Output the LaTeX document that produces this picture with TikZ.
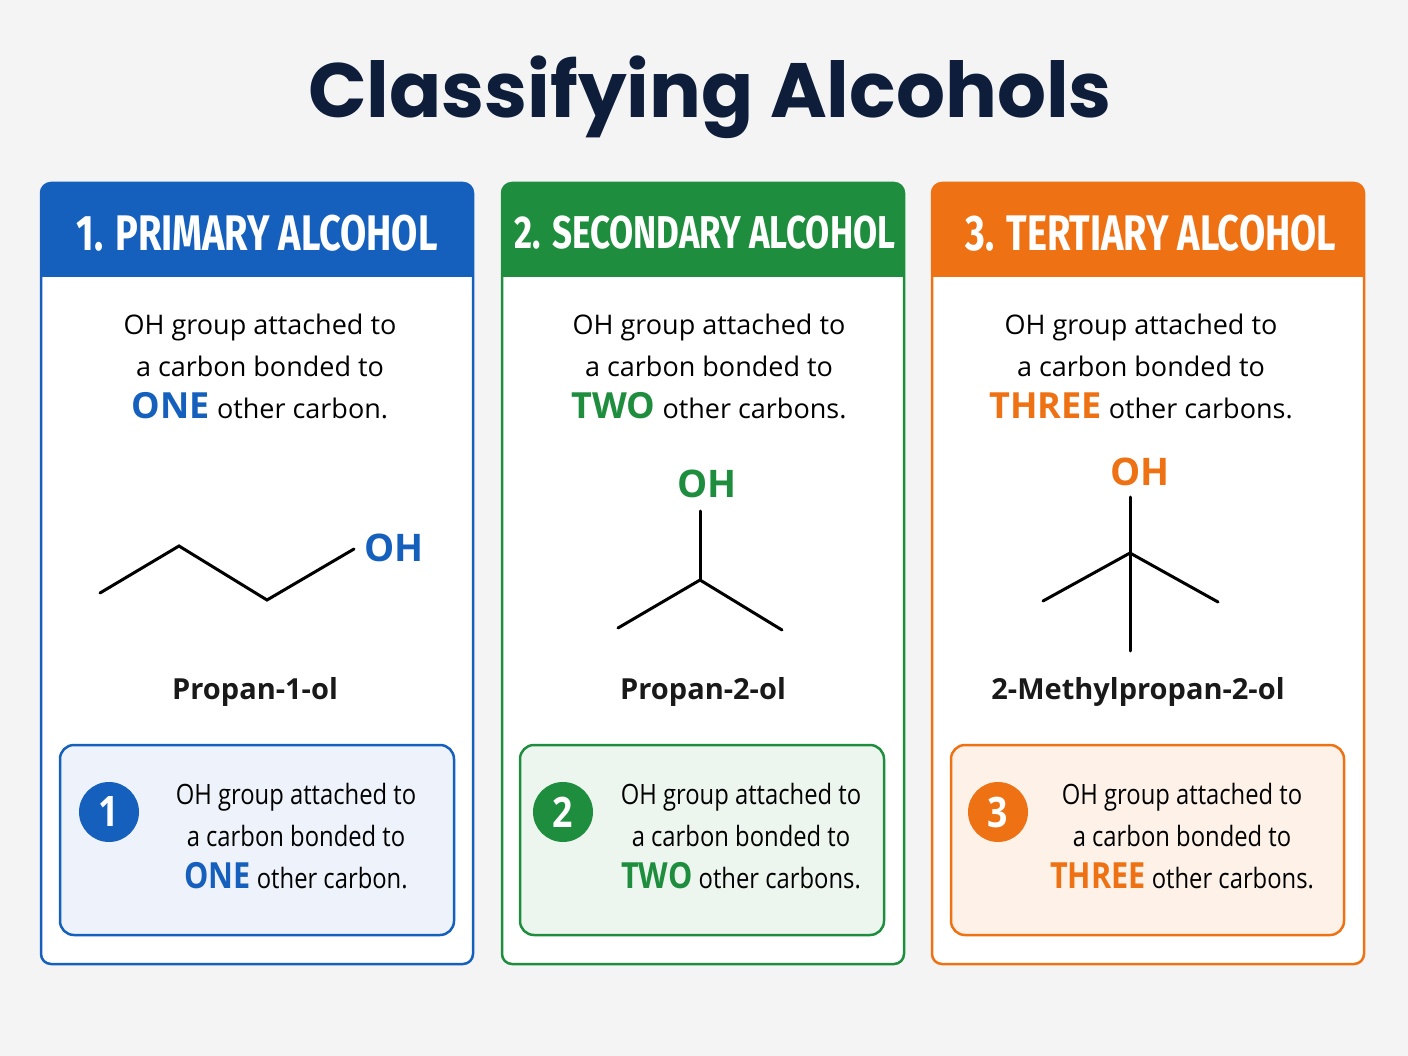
\documentclass[tikz,border=0pt]{standalone}
\usepackage{fontspec}
\setmainfont{Open Sans}
\newfontfamily\titlefont{Poppins}
\newfontfamily\headfont[FakeStretch=0.76]{Fira Sans}
\newfontfamily\boxfont[FakeStretch=0.85]{Open Sans}
\definecolor{bgc}{HTML}{F4F4F4}
\definecolor{navy}{HTML}{0E1E3A}
\definecolor{cA}{HTML}{1560BD}
\definecolor{cB}{HTML}{1E8E3E}
\definecolor{cC}{HTML}{EE7214}
\definecolor{fA}{HTML}{EEF3FB}
\definecolor{fB}{HTML}{EDF6EE}
\definecolor{fC}{HTML}{FDF1E8}
\begin{document}
\begin{tikzpicture}[x=1pt,y=-1pt,
  panel/.style={draw=#1,line width=2.5pt,fill=white,rounded corners=10pt},
  desc/.style={font=\fontsize{27}{42}\selectfont,align=center,text=black},
  bond/.style={line width=3pt,line cap=round},
  oh/.style={font=\bfseries\fontsize{38}{40}\selectfont,text=#1},
  mname/.style={font=\fontsize{29}{30}\selectfont\bfseries,text=black!90},
  sbox/.style={draw=#1,line width=2.5pt,rounded corners=14pt},
  numc/.style={circle,fill=#1,minimum size=60pt,inner sep=0pt,text=white,font=\boxfont\bfseries\fontsize{42}{42}\selectfont},
  btext/.style={font=\boxfont\fontsize{28}{42}\selectfont,align=center,text=black},
  hd/.style={font=\headfont\bfseries\fontsize{#1}{52}\selectfont,text=white}]
\useasboundingbox (0,0) rectangle (1408,1056);
\fill[bgc] (0,0) rectangle (1408,1056);
\node[font=\titlefont\bfseries\fontsize{77}{77}\selectfont,text=navy] (title) at (710,97) {Classifying Alcohols};
% panels
\foreach \xa/\xb/\c in {41/473/cA,502/904/cB,932/1364/cC}{
  \draw[panel=\c] (\xa,183) rectangle (\xb,964);
  \begin{scope}
   \clip[rounded corners=10pt] (\xa,183) rectangle (\xb,964);
   \fill[\c] (\xa,180) rectangle (\xb,277);
  \end{scope}
}
\node[hd=50] (h1) at (257,233) {1. PRIMARY ALCOHOL};
\node[hd=46] (h2) at (705,233) {2. SECONDARY ALCOHOL};
\node[hd=50] (h3) at (1151,233) {3. TERTIARY ALCOHOL};
% descriptions
\node[desc] (d1) at (260,366) {OH group attached to\\a carbon bonded to\\{\color{cA}\bfseries\fontsize{36}{40}\selectfont ONE} other carbon.};
\node[desc] (d2) at (709,366) {OH group attached to\\a carbon bonded to\\{\color{cB}\bfseries\fontsize{36}{40}\selectfont TWO} other carbons.};
\node[desc] (d3) at (1141,366) {OH group attached to\\a carbon bonded to\\{\color{cC}\bfseries\fontsize{36}{40}\selectfont THREE} other carbons.};
% molecule 1
\coordinate (a1) at (100,593); \coordinate (a2) at (179,546);
\coordinate (a3) at (267,600); \coordinate (a4) at (354,549);
\draw[bond] (a1)--(a2)--(a3)--(a4);
\node[oh=cA] (oh1) at (394,548) {OH};
\node[mname] (n1) at (255,692) {Propan-1-ol};
% molecule 2
\coordinate (b1) at (618,628); \coordinate (b2) at (700,580);
\coordinate (b3) at (782,630); \coordinate (b4) at (700,511);
\draw[bond] (b1)--(b2)--(b3); \draw[bond] (b2)--(b4);
\node[oh=cB] (oh2) at (707,484) {OH};
\node[mname] (n2) at (703,692) {Propan-2-ol};
% molecule 3
\coordinate (c0) at (1130,553); \coordinate (c1) at (1043,601);
\coordinate (c2) at (1218,602); \coordinate (c3) at (1130,497);
\coordinate (c4) at (1130,651);
\draw[bond] (c1)--(c0)--(c2); \draw[bond] (c3)--(c4);
\node[oh=cC] (oh3) at (1140,472) {OH};
\node[mname] (n3) at (1138,692) {2-Methylpropan-2-ol};
% summary boxes
\draw[sbox=cA,fill=fA] (60,745) rectangle (454,935);
\draw[sbox=cB,fill=fB] (520,745) rectangle (884,935);
\draw[sbox=cC,fill=fC] (951,745) rectangle (1344,935);
\node[numc=cA] (k1) at (109,812) {1};
\node[numc=cB] (k2) at (563,812) {2};
\node[numc=cC] (k3) at (998,812) {3};
\node[btext] (s1) at (296,836) {OH group attached to\\a carbon bonded to\\{\color{cA}\bfseries\fontsize{36}{40}\selectfont ONE} other carbon.};
\node[btext] (s2) at (741,836) {OH group attached to\\a carbon bonded to\\{\color{cB}\bfseries\fontsize{36}{40}\selectfont TWO} other carbons.};
\node[btext] (s3) at (1182,836) {OH group attached to\\a carbon bonded to\\{\color{cC}\bfseries\fontsize{36}{40}\selectfont THREE} other carbons.};
\end{tikzpicture}
\end{document}
